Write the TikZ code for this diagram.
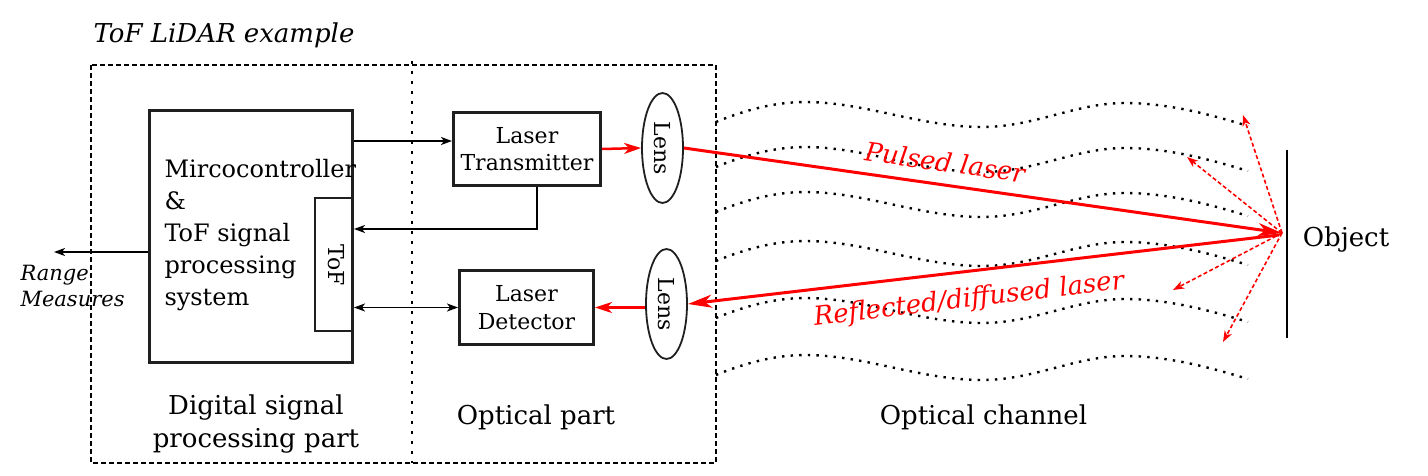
\documentclass[tikz,border=0pt]{standalone}
\usepackage{fontspec}
\setmainfont{DejaVu Serif}
\usetikzlibrary{arrows.meta,shapes.geometric,calc}
\newcommand{\wavyline}[1]{%
  \draw[wavy] (716,#1) .. controls (745,#1-12) and (775,#1-20) .. (805,#1-20)
    .. controls (865,#1-20) and (920,#1+5) .. (982,#1+5)
    .. controls (1035,#1+5) and (1075,#1-19) .. (1125,#1-19)
    .. controls (1170,#1-19) and (1215,#1-6) .. (1248,#1+4);}
\begin{document}
\begin{tikzpicture}[x=1pt,y=-1pt,
  box/.style={draw=black!88, line width=3pt, inner sep=0pt, align=center},
  lensshape/.style={ellipse, draw=black!88, line width=1.8pt, minimum width=41pt, minimum height=110pt, inner sep=0pt},
  lenstext/.style={rotate=-90, font=\fontsize{22}{25}\selectfont},
  blackarr/.style={line width=1.7pt, -{Stealth[length=11pt,width=8pt,inset=3pt]}},
  blackdbl/.style={line width=1.7pt, {Stealth[length=11pt,width=8pt,inset=3pt]}-{Stealth[length=11pt,width=8pt,inset=3pt]}},
  redarr/.style={red, line width=2.5pt, -{Stealth[length=17pt,width=11pt,inset=5pt]}},
  redbig/.style={red, line width=3pt, -{Stealth[length=24pt,width=13pt,inset=7pt]}},
  reddash/.style={red, line width=1.6pt, dash pattern=on 4pt off 2.5pt, -{Stealth[length=11pt,width=8pt,inset=3pt]}},
  wavy/.style={line width=2.4pt, dash pattern=on 2.4pt off 6.2pt},
  lbl/.style={font=\fontsize{26}{33}\selectfont, align=center},
  redlbl/.style={red, font=\fontsize{26}{30}\selectfont\itshape}
]
\useasboundingbox[fill=white] (0,0) rectangle (1428,476);

% title
\node[font=\fontsize{26}{30}\selectfont\itshape] (title) at (224,35) {ToF LiDAR example};

% outer frame and divider
\draw[line width=1.6pt, dash pattern=on 5pt off 3pt] (91,65) rectangle (716,463);
\draw[line width=2.6pt, dash pattern=on 2.6pt off 7.4pt] (412,61) -- (412,463);

% microcontroller block
\node[box, minimum width=203pt, minimum height=252pt] (mc) at (251,236.5) {};
\node[anchor=west, align=left, font=\fontsize{24}{32}\selectfont] (mctext) at (161,235.5)
  {Mircocontroller\\\&\\ToF signal\\processing\\system};
\draw[line width=2pt, black!88] (352.5,198) -- (315,198) -- (315,331) -- (352.5,331);
\node[rotate=-90, font=\fontsize{22}{25}\selectfont] (toftxt) at (336,265) {ToF};

% laser transmitter and detector
\node[box, minimum width=147pt, minimum height=73pt, font=\fontsize{22}{26.5}\selectfont] (lt) at (527,149) {Laser\\Transmitter};
\node[box, minimum width=134pt, minimum height=74pt, font=\fontsize{22}{28}\selectfont] (det) at (526.5,307.5) {Laser\\Detector};

% lenses
\node[lensshape] (lens1) at (662.5,148) {};
\node[lenstext] (lens1t) at (lens1) {Lens};
\node[lensshape] (lens2) at (666.5,304) {};
\node[lenstext] (lens2t) at (lens2) {Lens};

% black connectors
\coordinate (a1) at ([yshift=8pt]lt.west);
\draw[blackarr] (mc.east |- a1) -- (a1);
\coordinate (fb) at ([xshift=10pt]lt.south);
\coordinate (fbend) at (mc.east |- 0,229);
\draw[blackarr] (fb) |- (fbend);
\draw[blackdbl] (mc.east |- det.west) -- (det.west);
\coordinate (rng) at (54,252);
\draw[blackarr] (mc.west |- rng) -- (rng);
\node[anchor=west, align=left, font=\fontsize{21}{26}\selectfont\itshape] (rngtxt) at (17,286) {Range\\Measures};

% red short arrows
\draw[redarr] (lt.east) -- (lens1.west);
\draw[redarr] (lens2.west |- det.east) -- (det.east);

% optical channel wavy lines
\wavyline{122}
\wavyline{167}
\wavyline{212}
\wavyline{261}
\wavyline{318}
\wavyline{375}

% object
\coordinate (objtop) at (1287,150);
\coordinate (objbot) at (1287,338);
\draw[line width=2pt] (objtop) -- (objbot);
\node[font=\fontsize{26}{30}\selectfont] (objtxt) at (1346,240) {Object};
\coordinate (hit) at (1282,233);
\coordinate (hit2) at (1279,235);

% laser beams
\draw[redbig] (lens1.east) -- (hit);
\draw[redbig] (hit2) -- (lens2.east);
\node[redlbl, rotate=-8] (pulsed) at (945,162) {Pulsed laser};
\node[redlbl, rotate=6.8] (refl) at (969,300) {Reflected/diffused laser};

% diffused reflections
\coordinate (d1) at (1243,115);
\coordinate (d2) at (1187,157);
\coordinate (d3) at (1173,290);
\coordinate (d4) at (1223,342);
\draw[reddash] (hit) -- (d1);
\draw[reddash] (hit) -- (d2);
\draw[reddash] (hit) -- (d3);
\draw[reddash] (hit) -- (d4);

% bottom labels
\node[lbl] (dsp) at (256,424) {Digital signal\\processing part};
\node[lbl] (opt) at (536,417) {Optical part};
\node[lbl] (chan) at (983.5,417) {Optical channel};
\end{tikzpicture}
\end{document}
